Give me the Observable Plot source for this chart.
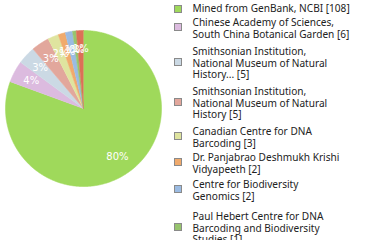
<!DOCTYPE html>
<html><head><meta charset="utf-8">
<script src="https://cdn.jsdelivr.net/npm/d3@7"></script>
<script src="https://cdn.jsdelivr.net/npm/@observablehq/plot@0.6"></script>
<style>
body{margin:0;background:#fff;}
#wrap{position:relative;width:380px;height:240px;overflow:hidden;font-family:"DejaVu Sans",sans-serif;}
.sq{position:absolute;left:174px;width:6px;height:6px;border:1px solid #8a8a8a;}
.tx{position:absolute;left:192.5px;font-family:"Noto Sans",sans-serif;font-size:10.1px;line-height:11.5px;color:#222;white-space:pre;}
</style></head><body>
<div id="wrap"><div id="chart"></div><div id="legend"></div></div>
<script>
const names = [
  "Mined from GenBank, NCBI",
  "Chinese Academy of Sciences,\nSouth China Botanical Garden",
  "Smithsonian Institution,\nNational Museum of Natural\nHistory...",
  "Smithsonian Institution,\nNational Museum of Natural\nHistory",
  "Canadian Centre for DNA\nBarcoding",
  "Dr. Panjabrao Deshmukh Krishi\nVidyapeeth",
  "Centre for Biodiversity\nGenomics",
  "Paul Hebert Centre for DNA\nBarcoding and Biodiversity\nStudies",
  "Other"
];
const counts = [108, 6, 5, 5, 3, 2, 2, 1, 2];
const colors = ["#9fd95b", "#dcbbdf", "#cbd9e4", "#e2a79c", "#dfe49f", "#f0aa6c", "#9bbbe2", "#97c46e", "#dc7057"];
const legendShown = 8;

const total = d3.sum(counts);
const arcs = d3.pie().sort(null).value(d => d)(counts);
const pts = [];
arcs.forEach((a, i) => {
  const n = Math.max(2, Math.ceil((a.endAngle - a.startAngle) / 0.01));
  pts.push({k: i, x: 0, y: 0, c: colors[i]});
  for (let j = 0; j <= n; j++) {
    const t = a.startAngle + (a.endAngle - a.startAngle) * j / n;
    pts.push({k: i, x: Math.sin(t), y: Math.cos(t), c: colors[i]});
  }
});
const labs = arcs.map((a, i) => {
  const m = (a.startAngle + a.endAngle) / 2, r = 0.76;
  return {x: r * Math.sin(m), y: r * Math.cos(m), t: Math.floor(counts[i] / total * 100) + "%"};
});

const chart = Plot.plot({
  width: 380, height: 240, margin: 0,
  style: {fontFamily: "DejaVu Sans", background: "transparent"},
  x: {domain: [-1, 1], range: [5, 161], axis: null},
  y: {domain: [-1, 1], range: [186, 30], axis: null},
  color: {type: "identity"},
  marks: [
    Plot.line(pts, {x: "x", y: "y", z: "k", fill: "c", stroke: "c", strokeWidth: 0.6, curve: "linear"}),
    Plot.text(labs, {x: "x", y: "y", text: "t", fill: "white", fontSize: 10})
  ]
});
document.getElementById("chart").appendChild(chart);

// legend layout
const firstLine = [9, 22.7, 52, 92, 131.7, 158, 185, 216.7];
const lg = document.getElementById("legend");
for (let i = 0; i < legendShown; i++) {
  const text = names[i] + " [" + counts[i] + "]";
  const lines = text.split("\n").length;
  const top = firstLine[i] - 5.6;
  const tx = document.createElement("div");
  tx.className = "tx"; tx.style.top = top + "px"; tx.textContent = text;
  lg.appendChild(tx);
  const mid = firstLine[i] + (lines - 1) * 11.5 / 2 - (lines > 1 ? 1.5 : 0);
  const sq = document.createElement("div");
  sq.className = "sq"; sq.style.top = (mid - 4) + "px"; sq.style.background = colors[i];
  lg.appendChild(sq);
}
</script>
</body></html>
